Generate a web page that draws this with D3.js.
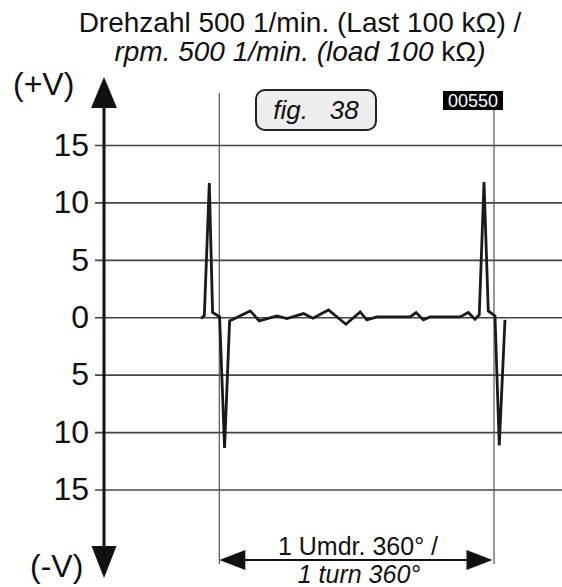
<!DOCTYPE html>
<html>
<head>
<meta charset="utf-8">
<script src="https://cdn.jsdelivr.net/npm/d3@7"></script>
<style>
  html, body { margin: 0; padding: 0; background: #fff; }
  svg { display: block; font-family: "Liberation Sans", Arial, sans-serif; }
</style>
</head>
<body>
<svg id="chart" width="562" height="587"></svg>
<script>
// ---- data ----
const angleDeg = [-23.6, -19.6, -13.1, -8.8, 0.4, 6.9, 13.5, 40.6, 52.4, 75.5, 88.6, 110.4, 122.7, 143.1, 165.9, 184.6, 193.4, 206.4, 250.0, 257.9, 267.4, 276.2, 315.5, 326.3, 335.1, 340.7, 346.9, 352.5, 361.3, 366.9, 374.4];
const voltage  = [-0.11, 0.17, 11.68, 0.41, 0.03, -11.39, -0.32, 0.55, -0.32, 0.11, -0.11, 0.32, -0.09, 0.63, -0.61, 0.46, -0.23, 0.03, 0.03, 0.41, -0.23, 0.03, 0.03, 0.41, -0.17, 0.22, 11.77, 0.55, 0.11, -11.16, -0.23];
const yTicks = [15, 10, 5, 0, -5, -10, -15];
const turnMarks = [0, 360];
const titleLine1 = "Drehzahl 500 1/min. (Last 100 kΩ) /";
const titleLine2a = "rpm. 500 1/min. (load 100 ";
const titleLine2b = "kΩ";
const titleLine2c = ")";
const figLabel = "fig.   38";
const codeLabel = "00550";
const turnLine1 = "1 Umdr. 360° /";
const turnLine2 = "1 turn 360°";

// ---- scales ----
const svg = d3.select("#chart");
const x = d3.scaleLinear().domain([0, 360]).range([219.3, 494]);
const y = d3.scaleLinear().domain([-15, 15]).range([489.5, 145]);

// ---- gridlines + tick labels via axis ----
const axisX = 95;
const yAxis = d3.axisLeft(y)
  .tickValues(yTicks)
  .tickSize(-(562 - axisX))
  .tickPadding(6)
  .tickFormat(d => String(Math.abs(d)));
const gAxis = svg.append("g").attr("transform", `translate(${axisX},0)`).call(yAxis);
gAxis.select(".domain").remove();
gAxis.selectAll(".tick line").attr("stroke", "#444").attr("stroke-width", 1.6);
gAxis.selectAll(".tick text").attr("font-size", 32).attr("fill", "#111")
  .attr("font-family", "'Liberation Sans', Arial, sans-serif");

// ---- vertical turn marks ----
svg.append("line").attr("x1", x(turnMarks[0])).attr("x2", x(turnMarks[0]))
  .attr("y1", 93).attr("y2", 564).attr("stroke", "#555").attr("stroke-width", 1.2);
svg.append("line").attr("x1", x(turnMarks[1])).attr("x2", x(turnMarks[1]))
  .attr("y1", 110).attr("y2", 564).attr("stroke", "#555").attr("stroke-width", 1.2);

// ---- vertical axis with arrows ----
const vx = 104;
svg.append("line").attr("x1", vx).attr("x2", vx).attr("y1", 100).attr("y2", 555)
  .attr("stroke", "#111").attr("stroke-width", 3);
svg.append("path").attr("d", `M${vx},77 L${vx - 13},108 L${vx + 13},108 Z`).attr("fill", "#111");
svg.append("path").attr("d", `M${vx},578 L${vx - 12.5},546 L${vx + 12.5},546 Z`).attr("fill", "#111");
svg.append("text").attr("x", 13).attr("y", 95).attr("font-size", 32).attr("fill", "#111").text("(+V)");
svg.append("text").attr("x", 30).attr("y", 577).attr("font-size", 32).attr("fill", "#111").text("(-V)");

// ---- waveform ----
const pts = angleDeg.map((a, i) => [a, voltage[i]]);
const line = d3.line().x(d => x(d[0])).y(d => y(d[1]));
svg.append("path").datum(pts).attr("d", line)
  .attr("fill", "none").attr("stroke", "#1a1a1a").attr("stroke-width", 2.8)
  .attr("stroke-linejoin", "miter");

// ---- title ----
svg.append("text").attr("x", 300).attr("y", 32).attr("text-anchor", "middle")
  .attr("font-size", 28).attr("fill", "#111").text(titleLine1);
const t2 = svg.append("text").attr("x", 300).attr("y", 61).attr("text-anchor", "middle")
  .attr("font-size", 28).attr("fill", "#111");
t2.append("tspan").attr("font-style", "italic").text(titleLine2a);
t2.append("tspan").text(titleLine2b);
t2.append("tspan").attr("font-style", "italic").text(titleLine2c);

// ---- fig. label box ----
svg.append("rect").attr("x", 256).attr("y", 90).attr("width", 120).attr("height", 40)
  .attr("rx", 9).attr("fill", "#eeeeee").attr("stroke", "#222").attr("stroke-width", 2);
svg.append("text").attr("x", 316).attr("y", 119).attr("text-anchor", "middle")
  .attr("font-size", 26).attr("font-style", "italic").attr("fill", "#111")
  .attr("xml:space", "preserve").style("white-space", "pre").text(figLabel);

// ---- code label ----
svg.append("rect").attr("x", 443).attr("y", 91).attr("width", 60).attr("height", 19).attr("fill", "#000");
svg.append("text").attr("x", 473).attr("y", 107).attr("text-anchor", "middle")
  .attr("font-size", 18).attr("fill", "#fff").text(codeLabel);

// ---- one-turn dimension arrow ----
const ay = 560;
const x0 = x(turnMarks[0]), x1 = x(turnMarks[1]) - 1.5;
svg.append("line").attr("x1", x0 + 10).attr("x2", x1 - 10).attr("y1", ay).attr("y2", ay)
  .attr("stroke", "#111").attr("stroke-width", 1.8);
svg.append("path").attr("d", `M${x0},${ay} L${x0 + 26},${ay - 10} L${x0 + 26},${ay + 10} Z`).attr("fill", "#111");
svg.append("path").attr("d", `M${x1},${ay} L${x1 - 26},${ay - 10} L${x1 - 26},${ay + 10} Z`).attr("fill", "#111");
svg.append("text").attr("x", 358).attr("y", 555).attr("text-anchor", "middle")
  .attr("font-size", 25).attr("fill", "#111").text(turnLine1);
svg.append("text").attr("x", 359).attr("y", 583).attr("text-anchor", "middle")
  .attr("font-size", 25).attr("font-style", "italic").attr("fill", "#111").text(turnLine2);
</script>
</body>
</html>
